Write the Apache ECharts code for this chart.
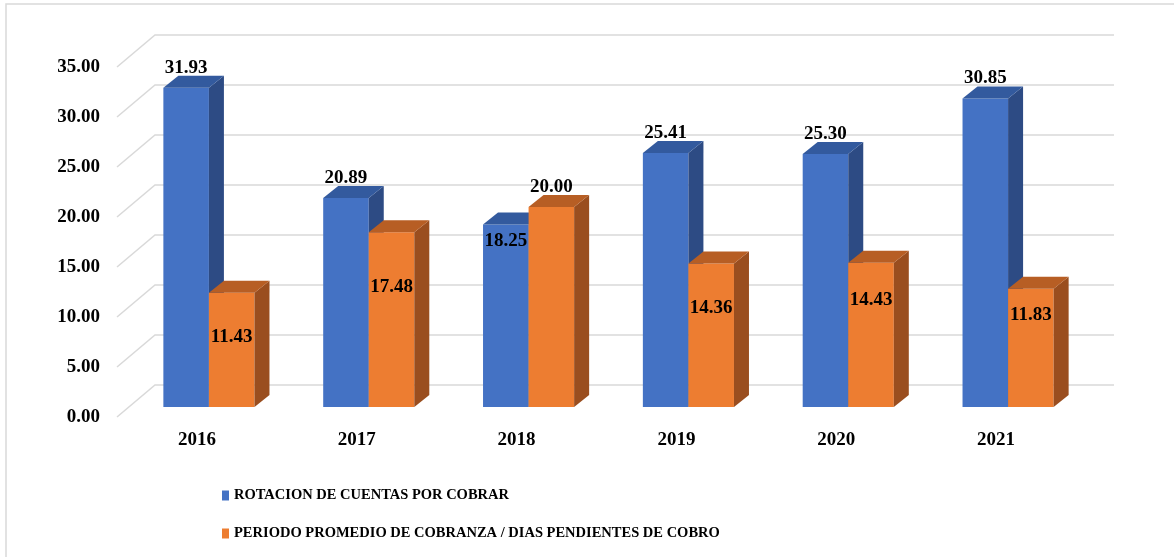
<!DOCTYPE html>
<html>
<head>
<meta charset="utf-8">
<script src="https://cdn.jsdelivr.net/npm/echarts@6/dist/echarts.min.js"></script>
<style>
  html, body { margin: 0; padding: 0; background: #fff; }
  #estrutura { width: 1174px; height: 557px; }
</style>
</head>
<body>
<div id="estrutura"></div>
<script>
// datos del grafico
var categorias = ['2016', '2017', '2018', '2019', '2020', '2021'];
var rotacion = [31.93, 20.89, 18.25, 25.41, 25.30, 30.85];
var periodo = [11.43, 17.48, 20.00, 14.36, 14.43, 11.83];
var yTicks = [0, 5, 10, 15, 20, 25, 30, 35];
var nombres = ['ROTACION DE CUENTAS POR COBRAR', 'PERIODO PROMEDIO DE COBRANZA / DIAS PENDIENTES DE COBRO'];

// ajuste vertical de las etiquetas (px respecto al tope de la barra), como en el original
var rotacionLabelDy = [-20, -20, 17, -20, -20, -20];
var periodoLabelDy = [44, 55, -20, 45, 37, 26];

var FUENTE = '"Liberation Serif", "Times New Roman", serif';
var BAR_DX = 12, BAR_DY = -10;   // plano de las barras respecto al plano frontal
var WALL_DX = 38, WALL_DY = -32; // pared del fondo
var SIDE_DX = 15, SIDE_DY = -12; // profundidad de cada barra

function barra3D(lado, colores, labelDy) {
    return function (params, api) {
        var i = api.value(0);
        var v = api.value(1);
        var w = api.size([1, 0])[0] * 0.285;
        var base = api.coord([i, 0]);
        var tope = api.coord([i, v]);
        var x0 = base[0] + BAR_DX + (lado === 0 ? -w : 0);
        var yb = base[1] + BAR_DY;
        var yt = tope[1] + BAR_DY;
        return {
            type: 'group',
            children: [
                { type: 'rect', shape: { x: x0, y: yt, width: w, height: yb - yt }, style: { fill: colores[0] } },
                { type: 'polygon', shape: { points: [[x0 + w, yt], [x0 + w + SIDE_DX, yt + SIDE_DY], [x0 + w + SIDE_DX, yb + SIDE_DY], [x0 + w, yb]] }, style: { fill: colores[1] } },
                { type: 'polygon', shape: { points: [[x0, yt], [x0 + SIDE_DX, yt + SIDE_DY], [x0 + w + SIDE_DX, yt + SIDE_DY], [x0 + w, yt]] }, style: { fill: colores[2] } },
                {
                    type: 'text', z2: 100, x: x0 + w / 2, y: yt + labelDy[params.dataIndex],
                    style: { text: v.toFixed(2), align: 'center', verticalAlign: 'middle', fill: '#000', font: 'bold 19px ' + FUENTE }
                }
            ]
        };
    };
}

function lineasGrid(params, api) {
    var y = api.coord([0, api.value(1)])[1];
    var r = params.coordSys;
    return {
        type: 'polyline',
        shape: { points: [[r.x, y], [r.x + WALL_DX, y + WALL_DY], [r.x + r.width + WALL_DX, y + WALL_DY]] },
        style: { stroke: '#d9d9d9', lineWidth: 1.5, fill: null }
    };
}

var chartDom = document.getElementById('estrutura');
var myChart = echarts.init(chartDom);

var option = {
    animation: false,
    backgroundColor: '#fff',
    graphic: [{
        type: 'rect', silent: true,
        shape: { x: 6, y: 4, width: 1200, height: 600 },
        style: { fill: null, stroke: '#d9d9d9', lineWidth: 1.5 }
    }],
    grid: { left: 117, right: 98, top: 67, bottom: 140 },
    legend: {
        orient: 'vertical',
        left: 217,
        top: 483,
        itemWidth: 7,
        itemHeight: 10,
        itemGap: 23,
        icon: 'rect',
        textStyle: { fontFamily: FUENTE, fontWeight: 'bold', fontSize: 14.5, color: '#000' },
        data: nombres
    },
    xAxis: {
        type: 'category',
        data: categorias,
        axisLine: { show: false },
        axisTick: { show: false },
        axisLabel: { margin: 14, fontFamily: FUENTE, fontWeight: 'bold', fontSize: 19, color: '#000' }
    },
    yAxis: {
        type: 'value',
        min: 0,
        max: 35,
        interval: 5,
        splitLine: { show: false },
        axisLine: { show: false },
        axisTick: { show: false },
        axisLabel: {
            margin: 17, fontFamily: FUENTE, fontWeight: 'bold', fontSize: 19, color: '#000',
            formatter: function (v) { return v.toFixed(2); }
        }
    },
    series: [
        {
            type: 'custom', name: 'grid', silent: true, z: 1,
            renderItem: lineasGrid,
            encode: { x: 0, y: 1 },
            data: yTicks.map(function (t) { return [0, t]; })
        },
        {
            type: 'custom', name: nombres[0], z: 2,
            itemStyle: { color: '#4472C4' },
            renderItem: barra3D(0, ['#4472C4', '#2D4B84', '#335A9E'], rotacionLabelDy),
            encode: { x: 0, y: 1 },
            data: rotacion.map(function (v, i) { return [i, v]; })
        },
        {
            type: 'custom', name: nombres[1], z: 2,
            itemStyle: { color: '#ED7D31' },
            renderItem: barra3D(1, ['#ED7D31', '#9A4E1F', '#B75E24'], periodoLabelDy),
            encode: { x: 0, y: 1 },
            data: periodo.map(function (v, i) { return [i, v]; })
        }
    ]
};

option && myChart.setOption(option);
</script>
</body>
</html>
